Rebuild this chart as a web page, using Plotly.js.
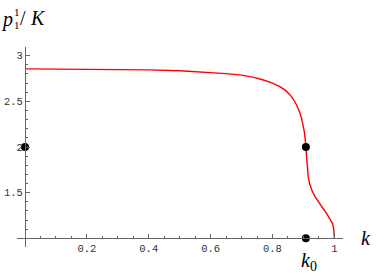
<!DOCTYPE html>
<html>
<head>
<meta charset="utf-8">
<script src="https://cdn.plot.ly/plotly-3.0.1.min.js"></script>
<style>html,body{margin:0;padding:0;background:#fff;}#plot{width:390px;height:278px;}</style>
</head>
<body>
<div id="plot"></div>
<script>
// ---- data ----
var kCurve = [0, 0.1, 0.2, 0.3, 0.4, 0.5, 0.6, 0.65, 0.7, 0.74, 0.771, 0.8, 0.824, 0.842, 0.857, 0.868, 0.878, 0.887, 0.894, 0.899, 0.903, 0.906, 0.908, 0.9095, 0.911, 0.913, 0.9155, 0.92, 0.927, 0.937, 0.948, 0.962, 0.975, 0.986, 0.994, 0.998, 1.0, 1.0];
var pCurve = [2.855, 2.854, 2.852, 2.849, 2.844, 2.835, 2.816, 2.803, 2.787, 2.763, 2.734, 2.70, 2.66, 2.62, 2.57, 2.52, 2.46, 2.39, 2.314, 2.24, 2.168, 2.08, 2.0, 1.93, 1.858, 1.76, 1.675, 1.60, 1.529, 1.46, 1.401, 1.335, 1.274, 1.215, 1.164, 1.10, 1.055, 1.0];
var kDots = [0, 0.908, 0.908];
var pDots = [2, 2, 1];
var xTickVals = [0.2, 0.4, 0.6, 0.8, 1];
var xTickText = ["0.2", "0.4", "0.6", "0.8", "1"];
var yTickVals = [1.5, 2, 2.5, 3];
var yTickText = ["1.5", "2", "2.5", "3"];

// ---- layout geometry ----
var W = 390, H = 278;
var M = {l: 17, r: 47, t: 47, b: 31};
var pw = W - M.l - M.r, ph = H - M.t - M.b;
var xr = [-0.0259, 1.028];
var yr = [0.905, 3.095];
var xAxisAt = 1, yAxisAt = 0;
function px(x) { return (x - M.l) / pw; }
function py(y) { return (H - M.b - y) / ph; }

var tickFont = {family: "Liberation Mono, Courier New, monospace", size: 10.5, color: "#333"};
var serif = "Liberation Serif, Times New Roman, serif";

function label(text, x, y, size) {
  return {text: text, xref: "paper", yref: "paper", x: px(x), y: py(y),
          xanchor: "center", yanchor: "middle", showarrow: false,
          font: {family: serif, size: size, color: "#000"}};
}

var traces = [
  {x: kCurve, y: pCurve, type: "scatter", mode: "lines",
   line: {color: "#ff0000", width: 1.4}, hoverinfo: "skip"},
  {x: kDots, y: pDots, type: "scatter", mode: "markers",
   marker: {color: "#000", size: 8}, cliponaxis: false, hoverinfo: "skip"}
];

var layout = {
  width: W, height: H,
  margin: M,
  paper_bgcolor: "#fff", plot_bgcolor: "#fff",
  showlegend: false,
  xaxis: {
    range: xr, anchor: "free", position: (xAxisAt - yr[0]) / (yr[1] - yr[0]),
    showgrid: false, zeroline: false, showline: true, linecolor: "#666", linewidth: 1,
    ticks: "inside", ticklen: 4, tickcolor: "#666", tickwidth: 1,
    tickmode: "array", tickvals: xTickVals, ticktext: xTickText,
    tickfont: tickFont,
    minor: {ticks: "inside", ticklen: 2, tickcolor: "#666", dtick: 0.05, tick0: 0, showgrid: false}
  },
  yaxis: {
    range: yr, anchor: "free", position: (yAxisAt - xr[0]) / (xr[1] - xr[0]),
    showgrid: false, zeroline: false, showline: true, linecolor: "#666", linewidth: 1,
    ticks: "inside", ticklen: 4, tickcolor: "#666", tickwidth: 1,
    tickmode: "array", tickvals: yTickVals, ticktext: yTickText,
    tickfont: tickFont,
    minor: {ticks: "inside", ticklen: 2, tickcolor: "#666", dtick: 0.1, tick0: 0, showgrid: false}
  },
  annotations: [
    label("<i>p</i>", 7, 19, 20),
    label("1", 16.5, 11.5, 11),
    label("1", 16.5, 25, 11),
    label("/", 23, 18, 20),
    label("<i>K</i>", 38, 18.5, 20),
    label("<i>k</i>", 366, 238, 20),
    label("<i>k</i><sub>0</sub>", 309, 261, 20)
  ]
};

Plotly.newPlot("plot", traces, layout, {staticPlot: true, displayModeBar: false});
</script>
</body>
</html>
